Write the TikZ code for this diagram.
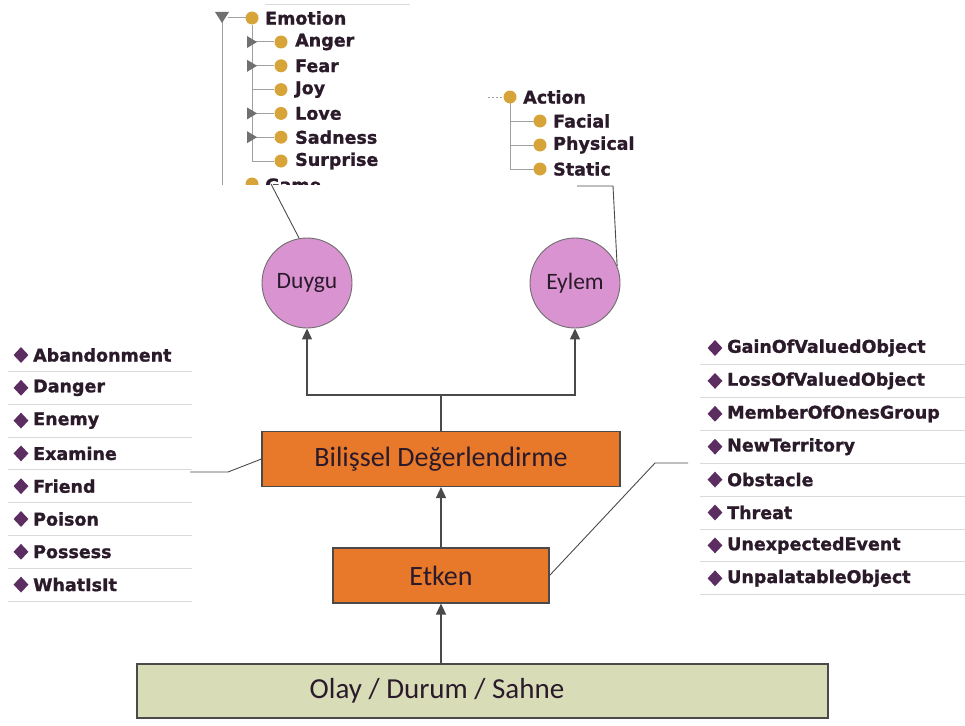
\documentclass[tikz,border=0pt]{standalone}
\usepackage{fontspec}
\setmainfont{Carlito}
\newfontfamily\treefont{DejaVu Sans}[BoldFeatures={FakeBold=1.2}]
\usetikzlibrary{arrows.meta,shapes.geometric}
\definecolor{orng}{HTML}{E8782A}
\definecolor{pinkc}{HTML}{D993D0}
\definecolor{olivebg}{HTML}{D8DDB8}
\definecolor{dgray}{HTML}{4A4A4A}
\definecolor{goldc}{HTML}{D7A43A}
\definecolor{purp}{HTML}{5B2D60}
\definecolor{sepc}{HTML}{DADADA}
\definecolor{treeline}{HTML}{A0A0A0}
\definecolor{tritc}{HTML}{707070}
\definecolor{txtc}{HTML}{2A1A2A}
\begin{document}
\begin{tikzpicture}[x=1pt,y=-1pt,
  box/.style={draw=dgray,line width=1.1pt,fill=orng,inner sep=0pt,font=\fontsize{28}{30}\selectfont,text=txtc},
  greenbox/.style={draw=dgray,line width=1.1pt,fill=olivebg,inner sep=0pt},
  circ/.style={circle,draw=dgray!80,line width=0.9pt,fill=pinkc,minimum size=90pt,inner sep=0pt,font=\fontsize{23.5}{25}\selectfont,text=txtc},
  arr/.style={draw=dgray,line width=1.3pt,-{Triangle[width=10pt,length=11pt]}},
  conn/.style={draw=dgray,line width=1.3pt},
  lk/.style={draw=dgray,line width=0.9pt},
  item/.style={anchor=west,inner sep=0pt,font=\treefont\bfseries\fontsize{17.5}{19}\selectfont,text=txtc},
  titem/.style={anchor=west,inner sep=0pt,font=\treefont\bfseries\fontsize{17.5}{19}\selectfont,text=txtc},
  dia/.style={diamond,fill=purp,inner sep=0pt,minimum width=15pt,minimum height=16pt},
  dot/.style={circle,fill=goldc,inner sep=0pt,minimum size=13pt},
  sepline/.style={draw=sepc,line width=1pt},
  tl/.style={draw=treeline,line width=1pt}
]
\useasboundingbox (0,0) rectangle (965,725);

% ---------- Emotion tree panel ----------
\begin{scope}
\clip (200,0) rectangle (420,184);
\draw[draw=sepc,line width=0.8pt] (265,4) -- (410,4);
\draw[tl] (222,22) -- (222,190);
\draw[tl] (228,18) -- (246,18);
\fill[tritc] (215,12) -- (229,12) -- (222,23) -- cycle;
\node[dot] (emo) at (252,18) {};
\node[titem] (emot) at (265,18) {Emotion};
\draw[tl] (252,25) -- (252,161);
\foreach \t/\tri [count=\i] in {Anger/1,Fear/1,Joy/0,Love/1,Sadness/1,Surprise/0}{
  \pgfmathsetmacro{\yy}{42+23.8*(\i-1)}
  \draw[tl] (252,\yy) -- (274,\yy);
  \ifnum\tri=1 \fill[tritc] (247,\yy-6) -- (247,\yy+6) -- (257,\yy) -- cycle; \fi
  \node[dot] (c\i) at (281,\yy) {};
  \node[titem] (ct\i) at (295,\yy) {\t};
}
\node[dot] (game) at (252,184) {};
\node[titem] (gamet) at (265,185) {Game};
\end{scope}

% ---------- Action tree panel ----------
\draw[tl,dashed,dash pattern=on 2pt off 2pt] (488,97) -- (503,97);
\draw[tl] (510,103) -- (510,169);
\node[dot] (act) at (510,97) {};
\node[titem] (actt) at (523,97) {Action};
\foreach \t [count=\i] in {Facial,Physical,Static}{
  \pgfmathsetmacro{\yy}{97+24*\i}
  \draw[tl] (510,\yy) -- (534,\yy);
  \node[dot] (a\i) at (540,\yy) {};
  \node[titem] (at\i) at (553,\yy) {\t};
}

% ---------- circles ----------
\node[circ] (duygu) at (307,283) {Duygu};
\node[circ] (eylem) at (575,283) {Eylem};

% ---------- boxes ----------
\node[box,minimum width=358pt,minimum height=55pt] (bd) at (441,459) {Bilişsel Değerlendirme};
\node[box,minimum width=216pt,minimum height=55pt] (etken) at (441,575.5) {Etken};
\node[greenbox,minimum width=691pt,minimum height=54pt] (olay) at (482.5,691) {};
\node[inner sep=0pt,font=\fontsize{29}{31}\selectfont,text=txtc] (olayt) at (437,691) {Olay / Durum / Sahne};

% ---------- connectors ----------
\coordinate (j) at (441,395);
\draw[conn] (bd.north) -- (j);
\draw[arr] (j) -| (duygu.south);
\draw[arr] (j) -| (eylem.south);
\draw[arr] (etken.north) -- (bd.south);
\draw[arr] (olay.north -| etken.south) -- (etken.south);

\coordinate (dtop) at (271,184);
\draw[lk] (dtop) -- (duygu.100);
\coordinate (etop) at (577,186);
\draw[lk] (etop) -- (613,186) -- (eylem.22);
\coordinate (lt) at (190,472);
\draw[lk] (bd.west) -- (228,472) -- (lt);
\coordinate (rt) at (688,463);
\draw[lk] (etken.east) -- (655,463) -- (rt);

% ---------- left list ----------
\foreach \t [count=\i] in {Abandonment,Danger,Enemy,Examine,Friend,Poison,Possess,WhatIsIt}{
  \pgfmathsetmacro{\yy}{355+32.8*(\i-1)}
  \node[dia] (ld\i) at (21,\yy) {};
  \node[item] (l\i) at (33,\yy) {\t};
  \draw[sepline] (8,\yy+16.5) -- (192,\yy+16.5);
}

% ---------- right list ----------
\foreach \t [count=\i] in {GainOfValuedObject,LossOfValuedObject,MemberOfOnesGroup,NewTerritory,Obstacle,Threat,UnexpectedEvent,UnpalatableObject}{
  \pgfmathsetmacro{\yy}{348+32.9*(\i-1)}
  \node[dia] (rd\i) at (715,\yy) {};
  \node[item] (r\i) at (727,\yy) {\t};
  \draw[sepline] (700,\yy+16.5) -- (965,\yy+16.5);
}
\end{tikzpicture}
\end{document}
